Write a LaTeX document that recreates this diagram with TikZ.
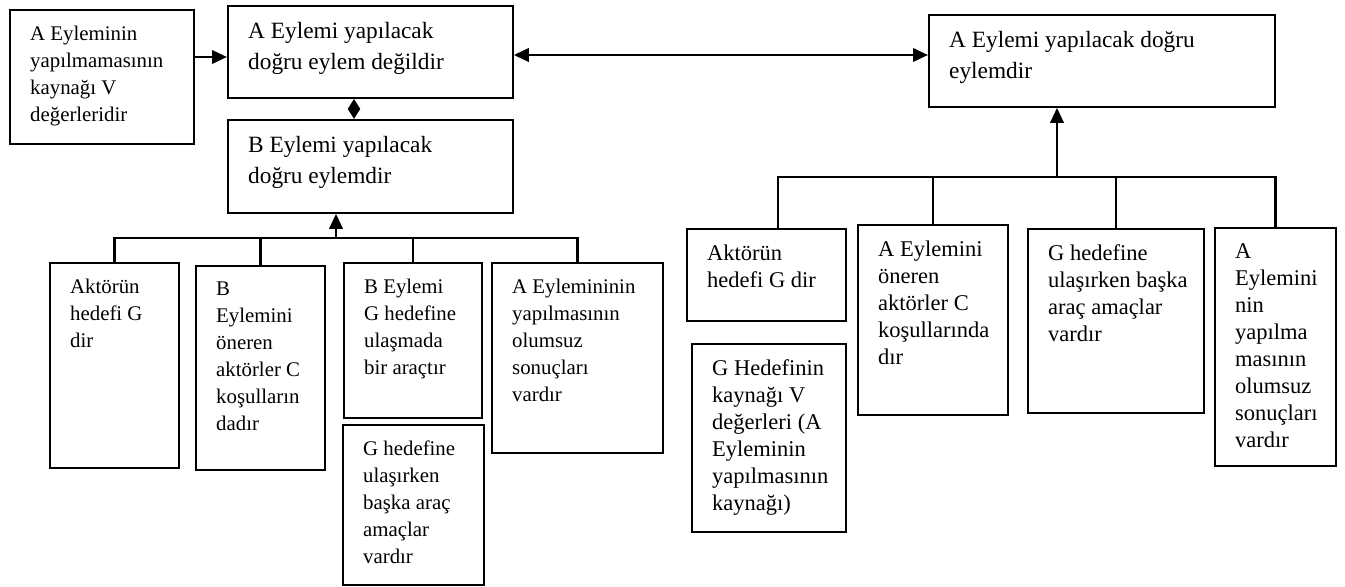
\documentclass[tikz,border=0pt]{standalone}
\usepackage{fontspec}
\setmainfont{Liberation Serif}
\usetikzlibrary{positioning,calc,arrows.meta}
\tikzset{frame/.style={draw, line width=1.1pt, anchor=north west, inner sep=0pt}}
\tikzset{txt/.style={anchor=north west, align=left, inner sep=0pt, font=\fontsize{12.5}{16.2}\selectfont}}
\tikzset{big/.style={font=\fontsize{14}{18.5}\selectfont}}
\tikzset{mid/.style={font=\fontsize{13.5}{16.2}\selectfont}}
\tikzset{line/.style={draw, line width=1.6pt}}
\tikzset{arr/.style={line, -{Triangle[length=9pt, width=8pt]}}}
\tikzset{darr/.style={line, {Triangle[length=9pt, width=8pt]}-{Triangle[length=9pt, width=8pt]}}}
% [text style] name, x, y, width, height (px), text
\newcommand\tbox[7][]{
				\node[frame, minimum width=0.6pt*#5, minimum height=0.6pt*#6] (#2) at (#3,#4) {};
				\node[txt, #1] (#2-txt) at ([xshift=12.5pt, yshift=-10pt]#2.north west) {#7};
				}

\begin{document}
\begin{tikzpicture}[x=0.6pt, y=-0.6pt]
	\useasboundingbox (0,0) rectangle (1345,586);

	\tbox{src}{9}{9}{184}{134}{A Eyleminin\\yapılmamasının\\kaynağı V\\değerleridir}
	\tbox[big]{anot}{227}{5}{285}{92}{A Eylemi yapılacak\\doğru eylem değildir}
	\tbox[big]{bact}{227}{119}{285}{93}{B Eylemi yapılacak\\doğru eylemdir}
	\tbox[big]{aact}{928}{14}{346}{92}{A Eylemi yapılacak doğru\\eylemdir}

	% left group
	\tbox{l1}{49}{262}{129}{205}{Aktörün\\hedefi G\\dir}
	\tbox{l2}{195}{265}{129}{204}{B\\Eylemini\\öneren\\aktörler C\\koşulların\\dadır}
	\tbox{l3}{343}{262}{138}{155}{B Eylemi\\G hedefine\\ulaşmada\\bir araçtır}
	\tbox{l3b}{342}{424}{141}{160}{G hedefine\\ulaşırken\\başka araç\\amaçlar\\vardır}
	\tbox{l4}{491}{262}{171}{190}{A Eylemininin\\yapılmasının\\olumsuz\\sonuçları\\vardır}

	% right group
	\tbox[mid]{r1}{686}{228}{159}{92}{Aktörün\\hedefi G dir}
	\tbox[mid]{r1b}{691}{343}{154}{188}{G Hedefinin\\kaynağı V\\değerleri (A\\Eyleminin\\yapılmasının\\kaynağı)}
	\tbox[mid]{r2}{857}{224}{150}{190}{A Eylemini\\öneren\\aktörler C\\koşullarında\\dır}
	\tbox[mid]{r3}{1027}{228}{176}{184}{G hedefine\\ulaşırken başka\\araç amaçlar\\vardır}
	\tbox[mid]{r4}{1214}{227}{121}{238}{A\\Eylemini\\nin\\yapılma\\masının\\olumsuz\\sonuçları\\vardır}

	\coordinate (lbus) at (336,238);
	\coordinate (rbus) at (1057,177);
	\coordinate (r1top) at ([xshift=7pt]r1.north);

	\draw[arr] (src.east |- 0,57) -- (anot.west |- 0,57);
	\draw[darr] (anot.east |- 0,55) -- (aact.west |- 0,55);
	\draw[line, {Triangle[length=6pt, width=7pt]}-{Triangle[length=6pt, width=7pt]}]
		(anot.south -| 354,0) -- (bact.north -| 354,0);

	\draw[line] (l1.north) |- (l4.north |- lbus) -- (l4.north);
	\draw[line] (l2.north) -- (l2.north |- lbus);
	\draw[line] (l3.north) -- (l3.north |- lbus);
	\draw[arr] (lbus) -- (bact.south -| lbus);

	\draw[line] (r1top) |- (r4.north |- rbus) -- (r4.north);
	\draw[line] (r2.north) -- (r2.north |- rbus);
	\draw[line] (r3.north) -- (r3.north |- rbus);
	\draw[arr] (rbus) -- (aact.south -| rbus);
\end{tikzpicture}
\end{document}
